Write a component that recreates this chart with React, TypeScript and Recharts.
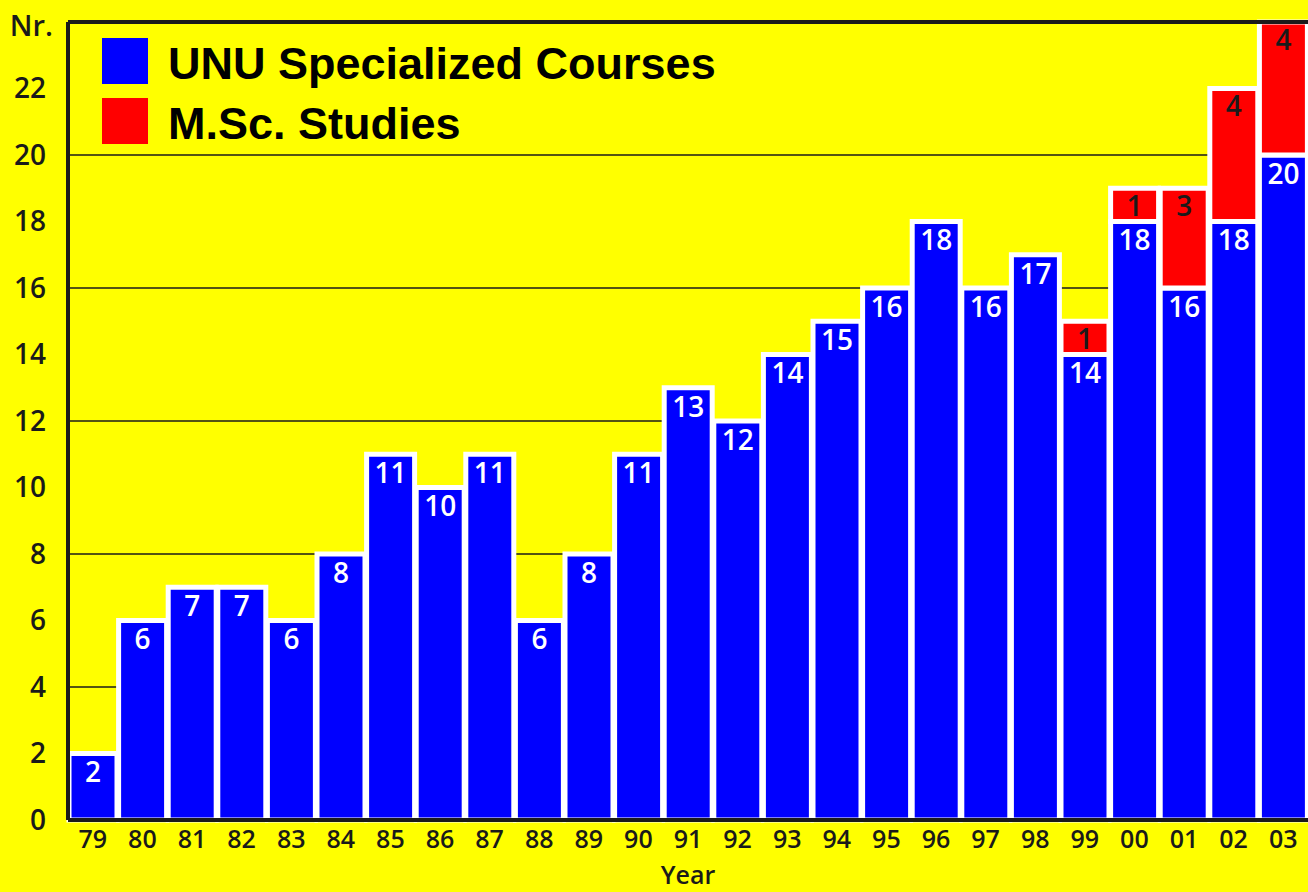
import { BarChart, Bar, XAxis, YAxis, CartesianGrid, Legend, LabelList, ReferenceLine, Label } from 'recharts';

const years = ['79', '80', '81', '82', '83', '84', '85', '86', '87', '88', '89', '90', '91', '92', '93', '94', '95', '96', '97', '98', '99', '00', '01', '02', '03'];
const unuCourses = [2, 6, 7, 7, 6, 8, 11, 10, 11, 6, 8, 11, 13, 12, 14, 15, 16, 18, 16, 17, 14, 18, 16, 18, 20];
const mscStudies = [null, null, null, null, null, null, null, null, null, null, null, null, null, null, null, null, null, null, null, null, 1, 1, 3, 4, 4];
const yTicks = [0, 2, 4, 6, 8, 10, 12, 14, 16, 18, 20, 22];
const gridValues = [4, 8, 12, 16, 20];
const legendItems = [
  { name: 'UNU Specialized Courses', color: '#0000ff' },
  { name: 'M.Sc. Studies', color: '#ff0000' },
];

const data = years.map((year, i) => ({ year, unu: unuCourses[i], msc: mscStudies[i] }));

const ink = '#1a1a1a';
const numFont = '"Open Sans", "Noto Sans", sans-serif';

function ChartLegend() {
  return (
    <div>
      {legendItems.map((item) => (
        <div key={item.name} style={{ display: 'flex', alignItems: 'center', height: 60 }}>
          <div style={{ width: 46, height: 46, background: item.color }} />
          <span
            style={{
              marginLeft: 20,
              marginTop: 5,
              fontFamily: '"Liberation Sans", Arial, sans-serif',
              fontWeight: 700,
              fontSize: 45,
              color: '#000',
              lineHeight: '46px',
            }}
          >
            {item.name}
          </span>
        </div>
      ))}
    </div>
  );
}

export default function App() {
  return (
    <div
      style={{
        position: 'absolute',
        left: 0,
        top: 0,
        width: 1308,
        height: 892,
        overflow: 'hidden',
        background: '#ffff00',
      }}
    >
      <BarChart
        width={1308}
        height={892}
        data={data}
        margin={{ top: 22, right: 0, left: 0, bottom: 0 }}
        barCategoryGap={1}
      >
        <CartesianGrid vertical={false} horizontalValues={gridValues} stroke={ink} strokeWidth={1.5} />
        <XAxis
          dataKey="year"
          height={72}
          interval={0}
          tickSize={0}
          tickMargin={10}
          axisLine={{ stroke: ink, strokeWidth: 4 }}
          tick={{ fill: ink, fontSize: 25, fontWeight: 600, fontFamily: numFont }}
        >
          <Label
            content={({ viewBox }: any) => (
              <text
                x={viewBox.x + viewBox.width / 2}
                y={viewBox.y + 64}
                textAnchor="middle"
                fill={ink}
                fontSize={25}
                fontWeight={600}
                fontFamily={numFont}
              >
                Year
              </text>
            )}
          />
        </XAxis>
        <YAxis
          width={68}
          domain={[0, 24]}
          ticks={yTicks}
          interval={0}
          tickSize={0}
          tickMargin={22}
          axisLine={{ stroke: ink, strokeWidth: 4 }}
          tick={{ fill: ink, fontSize: 28, fontWeight: 600, fontFamily: numFont }}
        >
          <Label
            content={({ viewBox }: any) => (
              <text
                x={viewBox.x + 53}
                y={viewBox.y + 14}
                textAnchor="end"
                fill={ink}
                fontSize={29}
                fontWeight={600}
                fontFamily={numFont}
              >
                Nr.
              </text>
            )}
          />
        </YAxis>
        <ReferenceLine y={24} stroke={ink} strokeWidth={4} ifOverflow="visible" />
        <Legend
          layout="horizontal"
          verticalAlign="middle"
          align="center"
          content={() => <ChartLegend />}
          wrapperStyle={{ top: 31, left: 102, width: 700, height: 130 }}
        />
        <Bar dataKey="unu" stackId="a" fill="#0000ff" stroke="#ffffff" strokeWidth={5} isAnimationActive={false}>
          <LabelList
            dataKey="unu"
            position="insideTop"
            offset={9}
            fill="#ffffff"
            fontSize={28}
            fontWeight={600}
            fontFamily={numFont}
          />
        </Bar>
        <Bar dataKey="msc" stackId="a" fill="#ff0000" stroke="#ffffff" strokeWidth={5} isAnimationActive={false}>
          <LabelList
            dataKey="msc"
            position="insideTop"
            offset={8}
            fill={ink}
            fontSize={28}
            fontWeight={600}
            fontFamily={numFont}
            formatter={(v: any) => (v ? v : '')}
          />
        </Bar>
      </BarChart>
    </div>
  );
}
